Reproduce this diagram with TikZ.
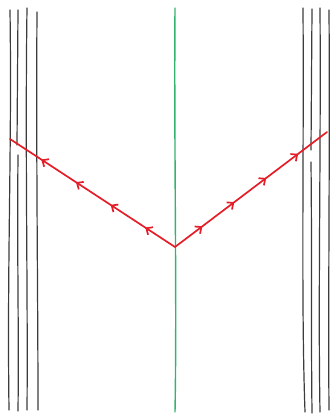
\documentclass[tikz,border=0pt]{standalone}
\usetikzlibrary{arrows.meta,decorations.markings}
\definecolor{wallgray}{RGB}{60,60,60}
\definecolor{mirrorgreen}{RGB}{50,180,110}
\definecolor{rayred}{RGB}{228,30,40}
\begin{document}
\begin{tikzpicture}[x=1pt, y=-1pt,
        wall/.style={draw=wallgray, line width=1.2pt, line cap=round},
        mirror/.style={draw=mirrorgreen, line width=1.4pt, line cap=round},
        ray/.style={draw=rayred, line width=1.7pt, line cap=round,
            decoration={markings,
                mark=between positions 0.18 and 0.82 step 0.21 with {\arrow{Straight Barb[length=5pt,width=9pt]}}},
            postaction={decorate}}]
    \useasboundingbox (0,0) rectangle (333,419);

    % left wall
    \draw[wall] (10,10) .. controls (12,150) and (7,260) .. (9,410);
    \draw[wall] (18,10) -- (17,145);
    \draw[wall] (18,155) .. controls (17,260) and (19,330) .. (18,411);
    \draw[wall] (27,8) .. controls (25,150) and (28,300) .. (27,410);
    \draw[wall] (37,12) .. controls (36,150) and (38,300) .. (38,410);

    % right wall
    \draw[wall] (303,8) .. controls (304,150) and (301,300) .. (305,412);
    \draw[wall] (312,9) -- (311,150);
    \draw[wall] (311,162) .. controls (312,260) and (311,330) .. (312,413);
    \draw[wall] (320,8) .. controls (321,150) and (318,300) .. (320,412);
    \draw[wall] (329,10) .. controls (330,150) and (328,300) .. (329,410);

    % mirror
    \draw[mirror] (175,8) .. controls (174,150) and (177,300) .. (175,412);

    % rays
    \coordinate (hit) at (175,247);
    \coordinate (leftend) at (10,139);
    \coordinate (rightend) at (327,132);
    \draw[ray] (hit) -- (leftend);
    \draw[ray] (hit) -- (rightend);
\end{tikzpicture}
\end{document}
